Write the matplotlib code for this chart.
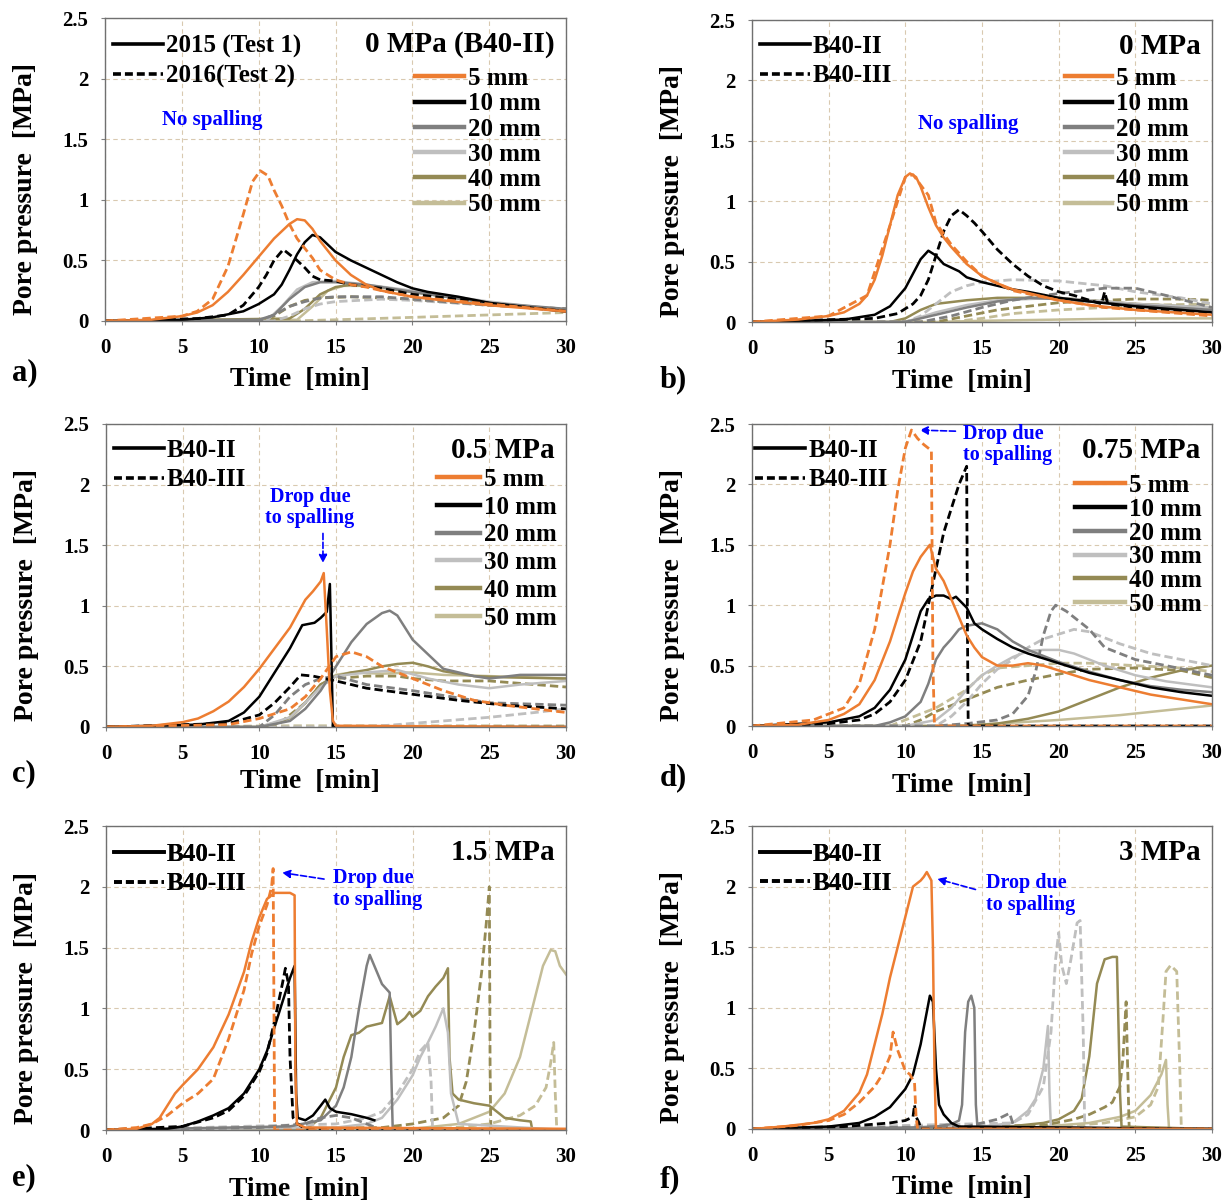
import matplotlib
matplotlib.use('Agg')
import matplotlib.pyplot as plt
from matplotlib.lines import Line2D
import numpy as np

plt.rcParams['font.family'] = ['Liberation Serif', 'DejaVu Serif']
plt.rcParams['font.weight'] = 'bold'
plt.rcParams['axes.labelweight'] = 'bold'

# ---------------- data: (time [min], pore pressure [MPa]) ----------------
# a) 0 MPa (B40-II), 2015 test 1 (s) / 2016 test 2 (d)
a5_s = [(0,0),(3,0.01),(5,0.04),(6,0.07),(7,0.13),(8,0.24),(9,0.38),(10,0.53),(11,0.68),(12,0.8),(12.5,0.84),(13,0.83),(13.5,0.76),(14,0.66),(15,0.5),(16,0.38),(17,0.3),(18,0.25),(20,0.2),(22,0.17),(25,0.13),(28,0.1),(30,0.08)]
a5_d = [(0,0),(5,0.04),(6,0.08),(7,0.18),(8,0.45),(9,0.88),(9.6,1.15),(10.1,1.24),(10.6,1.2),(11,1.08),(11.5,0.95),(12,0.8),(12.5,0.68),(13,0.6),(13.5,0.52),(14,0.42),(15,0.34),(16,0.3),(17,0.28),(18,0.25),(20,0.2),(25,0.14),(30,0.08)]
a10_s = [(0,0),(5,0.01),(7,0.03),(9,0.08),(10,0.14),(11,0.22),(11.5,0.3),(12,0.42),(12.5,0.55),(13,0.65),(13.5,0.71),(14,0.69),(14.5,0.63),(15,0.57),(16,0.5),(17,0.44),(18,0.38),(19,0.32),(20,0.27),(21,0.24),(23,0.2),(25,0.15),(27,0.12),(30,0.08)]
a10_d = [(0,0),(6,0.02),(8,0.05),(9,0.13),(10,0.28),(10.5,0.38),(11,0.5),(11.6,0.59),(12,0.55),(12.5,0.5),(13,0.44),(13.5,0.37),(14,0.34),(15,0.33),(16,0.3),(18,0.27),(20,0.22),(23,0.18),(26,0.13),(30,0.08)]
a20_s = [(0,0),(10,0.01),(11,0.05),(12,0.18),(13,0.28),(14,0.32),(15,0.32),(17,0.3),(20,0.24),(25,0.15),(30,0.1)]
a20_d = [(0,0),(10,0.0),(11,0.05),(12,0.12),(13,0.16),(14,0.19),(15,0.2),(18,0.2),(20,0.18),(25,0.13),(30,0.1)]
a30_s = [(0,0),(10.5,0.0),(11.5,0.12),(12.5,0.26),(13.5,0.32),(15,0.33),(17,0.3),(20,0.25),(25,0.16),(30,0.09)]
a30_d = [(0,0),(11,0.0),(12,0.04),(13,0.1),(14,0.14),(15,0.16),(18,0.18),(20,0.17),(25,0.13),(30,0.1)]
a40_s = [(0,0),(12,0.02),(13,0.1),(14,0.22),(15,0.28),(16,0.3),(18,0.28),(20,0.24),(25,0.15),(30,0.09)]
a40_d = [(0,0),(10,0.0),(11,0.04),(12,0.12),(13,0.17),(14,0.19),(16,0.2),(20,0.18),(25,0.13),(30,0.1)]
a50_s = [(0,0),(12.5,0.01),(13.5,0.12),(14.5,0.25),(15.5,0.29),(17,0.29),(20,0.24),(25,0.15),(30,0.08)]
a50_d = [(0,0),(12,0.0),(15,0.01),(20,0.03),(25,0.05),(30,0.07)]

# b) 0 MPa, B40-II (s) / B40-III (d)
b5_s = [(0,0),(3,0.02),(5,0.05),(6,0.08),(7,0.15),(7.5,0.22),(8,0.35),(8.5,0.55),(9,0.8),(9.5,1.05),(10,1.2),(10.3,1.23),(10.7,1.2),(11,1.12),(11.5,0.95),(12,0.8),(12.5,0.7),(13,0.62),(14,0.48),(15,0.38),(16,0.32),(17,0.27),(18,0.24),(20,0.18),(22,0.14),(25,0.1),(30,0.06)]
b5_d = [(0,0),(5,0.05),(7.5,0.22),(9,0.8),(10,1.2),(10.5,1.22),(11.2,1.1),(11.5,1.05),(12,0.82),(13,0.64),(14,0.5),(15,0.38),(17,0.26),(20,0.18),(23,0.12),(25,0.1),(30,0.05)]
b10_s = [(0,0),(6,0.02),(8,0.06),(9,0.13),(10,0.28),(10.5,0.4),(11,0.52),(11.5,0.59),(12,0.55),(12.5,0.48),(13,0.45),(13.5,0.42),(14,0.37),(15,0.33),(16,0.3),(17,0.27),(18,0.25),(20,0.2),(22,0.17),(25,0.13),(30,0.08)]
b10_d = [(0,0),(8,0.03),(9.5,0.07),(10.5,0.15),(11,0.22),(11.5,0.35),(12,0.55),(12.5,0.75),(13,0.88),(13.5,0.93),(14,0.88),(14.5,0.82),(15,0.75),(16,0.6),(17,0.48),(18,0.38),(19,0.3),(20,0.25),(21,0.22),(22,0.18),(22.8,0.15),(23,0.25),(23.2,0.15),(25,0.12),(30,0.07)]
b20_s = [(0,0),(10,0.0),(12,0.06),(14,0.12),(16,0.17),(18,0.2),(20,0.19),(25,0.14),(30,0.1)]
b20_d = [(0,0),(11,0.0),(13,0.05),(15,0.12),(17,0.18),(19,0.22),(21,0.25),(23,0.28),(25,0.28),(27,0.22),(30,0.12)]
b30_s = [(0,0),(10,0.0),(11,0.04),(12,0.08),(14,0.14),(16,0.18),(20,0.2),(25,0.15),(30,0.12)]
b30_d = [(0,0),(10,0.0),(11,0.05),(12,0.15),(13,0.25),(14,0.3),(15,0.33),(17,0.35),(20,0.34),(23,0.3),(25,0.25),(28,0.2),(30,0.15)]
b40_s = [(0,0),(9,0.0),(10,0.03),(11,0.1),(12,0.15),(14,0.18),(16,0.2),(20,0.2),(25,0.15),(30,0.12)]
b40_d = [(0,0),(12,0.0),(14,0.05),(16,0.1),(18,0.13),(20,0.16),(23,0.18),(25,0.19),(28,0.19),(30,0.18)]
b50_s = [(0,0),(12,0.0),(15,0.01),(20,0.02),(25,0.03),(30,0.03)]
b50_d = [(0,0),(13,0.0),(15,0.03),(17,0.07),(20,0.1),(23,0.12),(26,0.14),(30,0.15)]

# c) 0.5 MPa
c5_s = [(0,0),(3,0.01),(5,0.04),(6,0.07),(7,0.13),(8,0.21),(9,0.33),(10,0.48),(11,0.65),(12,0.82),(13,1.05),(13.5,1.12),(14,1.2),(14.2,1.27),(14.4,0.8),(14.6,0.3),(14.8,0.05),(15,0.01),(30,0.0)]
c5_d = [(0,0),(8,0.02),(10,0.07),(12,0.15),(13,0.25),(14,0.4),(15,0.58),(16,0.62),(17,0.58),(18,0.5),(20,0.4),(22,0.3),(24,0.22),(26,0.18),(28,0.15),(30,0.12)]
c10_s = [(0,0),(6,0.02),(8,0.05),(9,0.12),(10,0.25),(11,0.45),(12,0.65),(12.8,0.84),(13.2,0.85),(13.6,0.86),(14,0.9),(14.4,0.95),(14.6,1.18),(14.7,0.6),(14.8,0.0),(30,0.0)]
c10_d = [(0,0),(8,0.03),(10,0.1),(11,0.2),(12,0.33),(12.7,0.43),(13.5,0.42),(15,0.38),(17,0.32),(20,0.27),(23,0.22),(26,0.18),(30,0.15)]
c20_s = [(0,0),(10,0.0),(12,0.05),(13,0.15),(14,0.3),(15,0.5),(16,0.7),(17,0.85),(18,0.94),(18.5,0.96),(19,0.92),(19.5,0.82),(20,0.72),(21,0.6),(22,0.48),(23,0.45),(24,0.42),(25,0.4),(27,0.43),(30,0.43)]
c20_d = [(0,0),(10,0.0),(11,0.1),(12,0.25),(13,0.35),(14,0.4),(15,0.42),(17,0.35),(20,0.3),(25,0.2),(30,0.18)]
c30_s = [(0,0),(10,0.0),(12,0.08),(13,0.2),(14,0.33),(15,0.42),(17,0.45),(19,0.47),(21,0.4),(23,0.35),(25,0.32),(27,0.35),(30,0.38)]
c30_d = [(0,0),(15,0.0),(18,0.01),(20,0.03),(22,0.05),(25,0.08),(28,0.12),(30,0.15)]
c40_s = [(0,0),(10,0.0),(11,0.02),(12,0.08),(13,0.2),(14,0.35),(15,0.42),(16,0.45),(17,0.47),(18,0.5),(19,0.52),(20,0.53),(21,0.5),(22,0.46),(24,0.42),(26,0.41),(30,0.4)]
c40_d = [(0,0),(11,0.0),(13,0.2),(14,0.35),(15,0.4),(17,0.42),(19,0.42),(20,0.4),(22,0.38),(25,0.38),(30,0.33)]
c50_s = [(0,0),(10,0.0),(12,0.07),(13,0.2),(14,0.35),(15,0.43),(16,0.45),(18,0.44),(20,0.45),(22,0.43),(25,0.42),(30,0.4)]
c50_d = [(0,0),(12,0.01),(30,0.01)]

# d) 0.75 MPa
d5_s = [(0,0),(3,0.01),(5,0.05),(6,0.1),(7,0.18),(8,0.38),(9,0.7),(10,1.1),(10.5,1.28),(11,1.4),(11.3,1.45),(11.6,1.5),(11.8,1.4),(12,1.3),(12.5,1.2),(13,1.05),(13.5,0.9),(14,0.75),(14.5,0.65),(15,0.57),(16,0.5),(17,0.5),(18,0.52),(19,0.5),(20,0.46),(22,0.38),(24,0.32),(26,0.26),(28,0.22),(30,0.18)]
d5_d = [(0,0),(4,0.05),(6,0.15),(7,0.35),(8,0.8),(9,1.5),(9.5,1.95),(10,2.3),(10.4,2.45),(10.8,2.38),(11.2,2.33),(11.7,2.28),(11.8,0.5),(11.9,0.0),(30,0.0)]
d10_s = [(0,0),(5,0.03),(7,0.08),(8,0.15),(9,0.3),(10,0.55),(10.5,0.75),(11,0.95),(11.5,1.05),(12,1.08),(12.5,1.08),(13,1.05),(13.3,1.07),(14,0.98),(14.5,0.85),(15,0.8),(16,0.72),(17,0.65),(18,0.6),(20,0.52),(22,0.44),(24,0.38),(26,0.32),(28,0.28),(30,0.25)]
d10_d = [(0,0),(5,0.02),(7,0.05),(8,0.1),(9,0.2),(10,0.38),(11,0.7),(11.5,1.0),(12,1.3),(12.5,1.6),(13,1.8),(13.5,2.0),(14,2.15),(14.05,0.8),(14.1,0.0),(30,0.0)]
d20_s = [(0,0),(8,0.0),(9,0.03),(10,0.08),(11,0.2),(11.5,0.35),(12,0.55),(12.5,0.65),(13,0.72),(13.5,0.8),(14,0.83),(15,0.85),(16,0.8),(17,0.7),(18,0.63),(20,0.53),(22,0.45),(24,0.38),(26,0.33),(28,0.3),(30,0.28)]
d20_d = [(0,0),(12,0.0),(14,0.02),(16,0.05),(17,0.1),(18,0.25),(18.5,0.45),(19,0.75),(19.5,0.95),(19.8,1.0),(20.5,0.95),(21,0.9),(22,0.8),(23,0.65),(25,0.55),(27,0.5),(30,0.42)]
d30_s = [(0,0),(10,0.0),(12,0.05),(13,0.15),(14,0.3),(15,0.42),(16,0.5),(17,0.57),(18,0.62),(19,0.63),(20,0.63),(21,0.6),(23,0.5),(25,0.42),(27,0.37),(30,0.32)]
d30_d = [(0,0),(12,0.0),(13,0.08),(14,0.2),(15,0.35),(16,0.47),(17,0.55),(18,0.65),(19,0.72),(20,0.76),(21,0.8),(22,0.78),(24,0.68),(26,0.6),(28,0.55),(30,0.5)]
d40_s = [(0,0),(14,0.0),(16,0.02),(18,0.06),(20,0.12),(22,0.22),(24,0.32),(26,0.4),(28,0.46),(30,0.5)]
d40_d = [(0,0),(10,0.0),(11,0.05),(12,0.12),(14,0.22),(16,0.32),(18,0.38),(20,0.43),(22,0.47),(25,0.48),(28,0.46),(30,0.4)]
d50_s = [(0,0),(13,0.0),(16,0.02),(20,0.05),(24,0.09),(27,0.13),(30,0.17)]
d50_d = [(0,0),(9,0.0),(11,0.1),(12,0.15),(14,0.3),(15,0.42),(16,0.48),(18,0.5),(20,0.52),(22,0.52),(25,0.5),(28,0.48),(30,0.45)]

# e) 1.5 MPa
e5_s = [(0,0),(2,0.01),(3,0.05),(3.5,0.1),(4,0.2),(4.5,0.3),(5,0.37),(6,0.5),(7,0.68),(8,0.95),(9,1.3),(9.5,1.55),(10,1.75),(10.5,1.9),(11,1.95),(11.5,1.95),(12,1.95),(12.3,1.93),(12.35,0.5),(12.45,0.05),(13,0.02),(30,0.01)]
e5_d = [(0,0),(2,0.02),(3,0.05),(4,0.12),(5,0.22),(6,0.3),(7,0.42),(8,0.75),(9,1.15),(9.5,1.45),(10,1.68),(10.5,1.85),(10.8,2.0),(10.9,2.15),(11.0,0.0),(30,0.0)]
e10_s = [(0,0),(4,0.01),(5,0.03),(6,0.07),(7,0.12),(8,0.18),(9,0.3),(10,0.5),(10.5,0.65),(11,0.85),(11.5,1.05),(12,1.25),(12.3,1.35),(12.4,0.3),(12.5,0.1),(13,0.08),(13.5,0.12),(14,0.2),(14.3,0.25),(14.6,0.18),(15,0.15),(16,0.13),(17,0.1),(17.5,0.08)]
e10_d = [(0,0),(5,0.03),(7,0.1),(8,0.16),(9,0.28),(10,0.48),(10.5,0.63),(11,0.9),(11.5,1.2),(11.7,1.33),(11.9,1.2),(12,0.6),(12.2,0.1),(12.5,0.05),(13,0.01),(30,0.0)]
e20_s = [(0,0),(12,0.03),(14,0.08),(15,0.2),(15.5,0.35),(16,0.6),(16.5,1.0),(17,1.35),(17.2,1.44),(17.5,1.35),(18,1.2),(18.5,1.13),(18.6,0.5),(18.7,0.0),(30,0.0)]
e20_d = [(0,0),(10,0.02),(13,0.05),(14,0.1),(15,0.12),(16,0.1),(17,0.05),(18,0.0),(30,0.0)]
e30_s = [(0,0),(15,0.02),(17,0.05),(18,0.1),(19,0.25),(20,0.45),(20.5,0.6),(21,0.72),(21.5,0.85),(22,1.0),(22.3,0.8),(22.5,0.3),(23,0.05),(30,0.0)]
e30_d = [(0,0),(15,0.05),(17,0.1),(18,0.15),(19,0.3),(20,0.5),(20.5,0.65),(21,0.72),(21.2,0.4),(21.3,0.0),(30,0.0)]
e40_s = [(0,0),(13,0.0),(14,0.1),(15,0.35),(15.5,0.6),(16,0.78),(16.5,0.8),(17,0.85),(18,0.88),(18.5,1.1),(19,0.87),(19.5,0.92),(19.8,0.97),(20,0.93),(20.5,0.98),(21,1.1),(21.5,1.18),(22,1.25),(22.3,1.33),(22.4,0.6),(22.6,0.3),(23,0.25),(24,0.22),(25,0.2),(25.5,0.15),(26,0.1),(27,0.08),(27.7,0.07),(27.8,0.0),(30,0.0)]
e40_d = [(0,0),(18,0.02),(20,0.05),(22,0.1),(23,0.2),(23.5,0.4),(24,0.8),(24.5,1.3),(24.8,1.7),(25,2.0),(25.05,0.5),(25.1,0.0),(30,0.0)]
e50_s = [(0,0),(20,0.01),(23,0.05),(24,0.1),(25,0.15),(26,0.3),(27,0.6),(28,1.1),(28.5,1.35),(29,1.48),(29.3,1.47),(29.6,1.35),(30,1.28)]
e50_d = [(0,0),(22,0.01),(25,0.05),(27,0.12),(28,0.2),(28.7,0.35),(29,0.55),(29.2,0.72),(29.3,0.3),(29.4,0.0),(30,0.0)]

# f) 3 MPa
f5_s = [(0,0),(2,0.02),(4,0.05),(5,0.08),(6,0.15),(7,0.3),(7.5,0.45),(8,0.7),(8.5,0.95),(9,1.25),(9.5,1.5),(10,1.75),(10.5,2.0),(11,2.05),(11.2,2.08),(11.4,2.12),(11.7,2.05),(11.8,1.5),(11.9,0.5),(12,0.0),(30,0.0)]
f5_d = [(0,0),(3,0.03),(5,0.07),(6,0.12),(7,0.22),(8,0.35),(8.5,0.45),(9,0.6),(9.2,0.8),(9.5,0.65),(10,0.48),(10.3,0.45),(10.6,0.38),(10.7,0.1),(10.8,0.0),(30,0.0)]
f10_s = [(0,0),(5,0.02),(7,0.05),(8,0.1),(9,0.18),(10,0.33),(10.5,0.45),(11,0.7),(11.3,0.9),(11.6,1.1),(11.8,1.05),(12,0.5),(12.2,0.2),(12.5,0.12),(13,0.05),(13.5,0.02),(30,0.0)]
f10_d = [(0,0),(6,0.02),(8,0.04),(9,0.05),(10,0.07),(10.5,0.1),(10.6,0.2),(10.7,0.1),(10.9,0.05),(11,0.0),(30,0.0)]
f20_s = [(0,0),(10,0.01),(12,0.02),(13,0.04),(13.5,0.07),(13.7,0.2),(13.9,0.8),(14.1,1.05),(14.3,1.1),(14.5,1.0),(14.6,0.2),(14.7,0.02),(30,0.0)]
f20_d = [(0,0),(14,0.02),(15,0.05),(16,0.08),(16.8,0.13),(17,0.05),(17.2,0.0),(30,0.0)]
f30_s = [(0,0),(15,0.02),(17,0.05),(18,0.15),(18.5,0.25),(19,0.5),(19.3,0.85),(19.4,0.3),(19.5,0.0),(30,0.0)]
f30_d = [(0,0),(17,0.05),(18,0.12),(19,0.35),(19.5,0.8),(19.8,1.4),(20,1.62),(20.2,1.35),(20.5,1.2),(20.8,1.4),(21.2,1.7),(21.4,1.72),(21.6,0.8),(21.7,0.0),(30,0.0)]
f40_s = [(0,0),(16,0.01),(19,0.05),(20,0.08),(21,0.15),(21.5,0.25),(22,0.6),(22.5,1.2),(23,1.4),(23.5,1.42),(23.8,1.42),(24,0.3),(24.1,0.02),(30,0.0)]
f40_d = [(0,0),(19,0.03),(21,0.08),(22,0.12),(23,0.18),(23.5,0.22),(24,0.35),(24.2,0.6),(24.4,1.05),(24.5,0.5),(24.6,0.0),(30,0.0)]
f50_s = [(0,0),(18,0.01),(22,0.05),(24,0.1),(25,0.15),(26,0.28),(26.7,0.45),(27,0.57),(27.1,0.2),(27.2,0.0),(30,0.0)]
f50_d = [(0,0),(20,0.02),(23,0.05),(25,0.1),(26,0.2),(26.5,0.35),(26.8,0.9),(27,1.3),(27.3,1.35),(27.7,1.3),(27.9,0.5),(28,0.0),(30,0.0)]

depths = ['5 mm', '10 mm', '20 mm', '30 mm', '40 mm', '50 mm']
colors = ['#ED7D31', '#000000', '#7F7F7F', '#BFBFBF', '#948A54', '#C4BD97']
x_ticks = [0, 5, 10, 15, 20, 25, 30]
y_ticks = [0, 0.5, 1, 1.5, 2, 2.5]
y_tick_labels = ['0', '0.5', '1', '1.5', '2', '2.5']

panel_curves = {
    'a': [(a5_s, a5_d), (a10_s, a10_d), (a20_s, a20_d), (a30_s, a30_d), (a40_s, a40_d), (a50_s, a50_d)],
    'b': [(b5_s, b5_d), (b10_s, b10_d), (b20_s, b20_d), (b30_s, b30_d), (b40_s, b40_d), (b50_s, b50_d)],
    'c': [(c5_s, c5_d), (c10_s, c10_d), (c20_s, c20_d), (c30_s, c30_d), (c40_s, c40_d), (c50_s, c50_d)],
    'd': [(d5_s, d5_d), (d10_s, d10_d), (d20_s, d20_d), (d30_s, d30_d), (d40_s, d40_d), (d50_s, d50_d)],
    'e': [(e5_s, e5_d), (e10_s, e10_d), (e20_s, e20_d), (e30_s, e30_d), (e40_s, e40_d), (e50_s, e50_d)],
    'f': [(f5_s, f5_d), (f10_s, f10_d), (f20_s, f20_d), (f30_s, f30_d), (f40_s, f40_d), (f50_s, f50_d)],
}
panel_titles = {'a': '0 MPa (B40-II)', 'b': '0 MPa', 'c': '0.5 MPa', 'd': '0.75 MPa',
                'e': '1.5 MPa', 'f': '3 MPa'}
test_labels = {'a': ['2015 (Test 1)', '2016(Test 2)']}

W, H = 1231, 1203
fig = plt.figure(figsize=(W / 100, H / 100), dpi=100)

# axes boxes in pixels: left, top, right, bottom
boxes = {'a': (105, 18, 566, 321), 'b': (752, 20, 1212, 322),
         'c': (106, 424, 566, 727), 'd': (752, 424, 1212, 726),
         'e': (106, 826, 566, 1130), 'f': (752, 826, 1212, 1129)}
# depth legend: anchor (axes frac), labelspacing, handlelength
right_leg = {'a': (0.672, 0.838, 0.09, 1.95), 'b': (0.680, 0.844, 0.09, 1.9),
             'c': (0.720, 0.855, 0.19, 1.7), 'd': (0.702, 0.834, 0.03, 2.0)}
left_leg = {'a': (0.017, 0.944), 'b': (0.017, 0.950), 'c': (0.017, 0.950),
            'd': (0.007, 0.950), 'e': (0.017, 0.944), 'f': (0.017, 0.944)}
xlab_pos = {'a': (0.423, -0.153), 'b': (0.457, -0.155), 'c': (0.443, -0.14),
            'd': (0.457, -0.155), 'e': (0.42, -0.153), 'f': (0.457, -0.153)}
tag_pos = {'a': (12, 373), 'b': (660, 380), 'c': (12, 774), 'd': (660, 778),
           'e': (12, 1178), 'f': (660, 1180)}

blue = '#0000FF'
dash = (3.0, 1.5)

for key, (l, t, r, b) in boxes.items():
    ax = fig.add_axes([l / W, 1 - b / H, (r - l) / W, (b - t) / H])
    # draw deep sensors first so the near-surface curves sit on top
    for i in range(5, -1, -1):
        s, d = panel_curves[key][i]
        ts, ps = zip(*s)
        td, pd_ = zip(*d)
        ax.plot(td, pd_, color=colors[i], lw=2.0, dashes=dash)
        ax.plot(ts, ps, color=colors[i], lw=1.8)
    ax.set_xlim(0, 30)
    ax.set_ylim(0, 2.5)
    ax.set_xticks(x_ticks)
    ax.set_yticks(y_ticks)
    ax.set_yticklabels(y_tick_labels)
    ax.tick_params(labelsize=15, direction='out', length=3, color='#808080', pad=9)
    ax.grid(True, color='#D9C9B0', lw=0.8, dashes=(4, 3))
    ax.set_axisbelow(True)
    for sp in ax.spines.values():
        sp.set_color('#707070')
        sp.set_linewidth(1.0)
    ax.set_ylabel('Pore pressure  [MPa]', fontsize=20, fontweight='bold')
    ax.yaxis.set_label_coords(-0.145, 0.435)
    ax.set_xlabel('Time  [min]', fontsize=20, fontweight='bold')
    ax.xaxis.set_label_coords(*xlab_pos[key])

    # test legend (solid / dashed)
    labs = test_labels.get(key, ['B40-II', 'B40-III'])
    h_test = [Line2D([], [], color='black', lw=2.6),
              Line2D([], [], color='black', lw=2.6, dashes=(2.2, 1.1))]
    lg1 = ax.legend(h_test, labs, loc='upper left', bbox_to_anchor=left_leg[key],
                    frameon=False, prop={'size': 18, 'weight': 'bold'},
                    handlelength=2.0, handletextpad=0.12,
                    borderpad=0, borderaxespad=0, labelspacing=0.25)
    ax.add_artist(lg1)

    if key in right_leg:
        x0, y0, sp_, hl = right_leg[key]
        h_dep = [Line2D([], [], color=c, lw=3.2) for c in colors]
        ax.legend(h_dep, depths, loc='upper left', bbox_to_anchor=(x0, y0),
                  frameon=False, prop={'size': 18, 'weight': 'bold'},
                  handlelength=hl, handletextpad=0.16,
                  borderpad=0, borderaxespad=0, labelspacing=sp_)

    ax.text(0.975, 0.912, panel_titles[key], transform=ax.transAxes, ha='right',
            va='center', fontsize=21)

    tx, ty = tag_pos[key]
    fig.text(tx / W, 1 - ty / H, key + ')', fontsize=22, ha='left', va='center')

    if key == 'a':
        ax.text(6.96, 1.66, 'No spalling', color=blue, fontsize=15, ha='center', va='center')
    elif key == 'b':
        ax.text(14.1, 1.64, 'No spalling', color=blue, fontsize=15, ha='center', va='center')
    elif key == 'c':
        ax.text(13.3, 1.81, 'Drop due\nto spalling', color=blue, fontsize=14.5,
                ha='center', va='center', linespacing=1.1)
        ax.annotate('', xy=(14.15, 1.33), xytext=(14.15, 1.62),
                    arrowprops=dict(arrowstyle='-|>', color=blue, lw=1.2, ls='--',
                                    mutation_scale=12))
    else:
        ann = {'d': (13.76, 2.33, (10.75, 2.45), (13.45, 2.44)),
               'e': (14.8, 1.98, (11.3, 2.12), (14.4, 2.06)),
               'f': (15.26, 1.94, (11.9, 2.07), (14.75, 1.97))}[key]
        ax.text(ann[0], ann[1], 'Drop due\nto spalling', color=blue, fontsize=14.5,
                ha='left', va='center', linespacing=1.1)
        ax.annotate('', xy=ann[2], xytext=ann[3],
                    arrowprops=dict(arrowstyle='-|>', color=blue, lw=1.2, ls='--',
                                    mutation_scale=12))

fig.savefig('out.png', dpi=100)
